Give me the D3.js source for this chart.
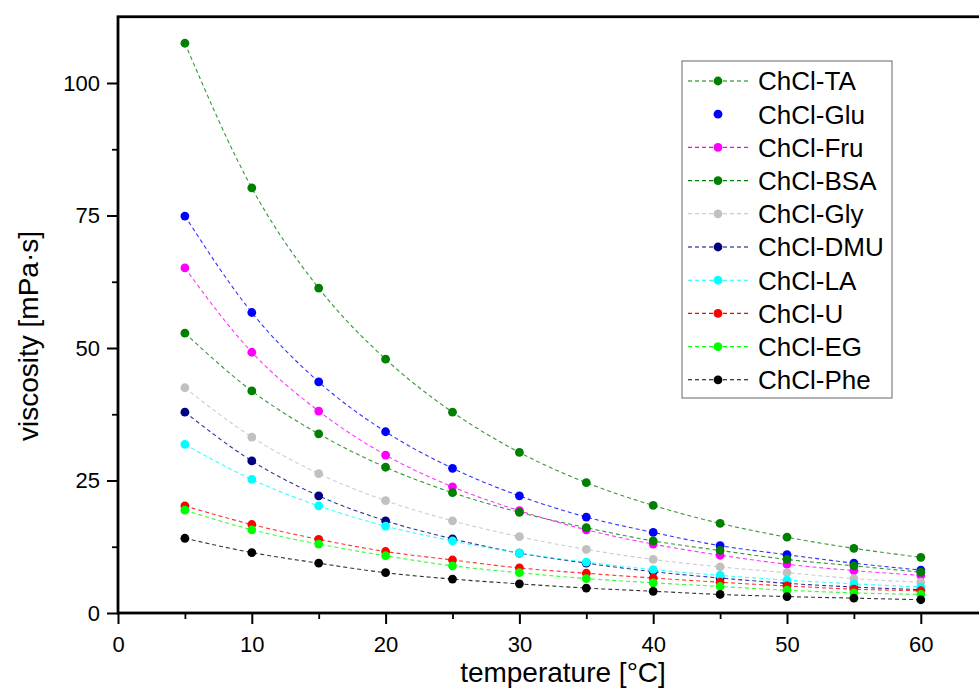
<!DOCTYPE html>
<html lang="en">
<head>
    <meta charset="UTF-8">
    <title>viscosity vs temperature</title>
    <style>
        body { margin: 0; background: #fff; }
        text { font-family: "Liberation Sans", Arial, sans-serif; fill: #000; }
    </style>
</head>
<body>
    <svg id="svg" width="979" height="688"></svg>

    <script src="https://cdn.jsdelivr.net/npm/d3@7/dist/d3.min.js"></script>
    <script>
        // temperatures measured (°C)
        const temperature = [5, 10, 15, 20, 25, 30, 35, 40, 45, 50, 55, 60];

        // viscosity in mPa·s
        const chclTA  = [107.5, 80.2, 61.3, 47.9, 37.9, 30.3, 24.6, 20.3, 16.9, 14.3, 12.2, 10.5];
        const chclGlu = [74.9, 56.7, 43.6, 34.2, 27.3, 22.1, 18.1, 15.2, 12.7, 11.0, 9.4, 8.1];
        const chclFru = [65.1, 49.2, 38.1, 29.8, 23.8, 19.3, 15.7, 13.0, 10.9, 9.2, 8.0, 7.1];
        const chclBSA = [52.8, 41.9, 33.8, 27.5, 22.7, 19.0, 16.1, 13.6, 11.8, 10.1, 8.9, 7.7];
        const chclGly = [42.5, 33.2, 26.3, 21.2, 17.4, 14.4, 12.0, 10.1, 8.7, 7.6, 6.5, 5.8];
        const chclDMU = [37.9, 28.7, 22.1, 17.4, 14.0, 11.3, 9.4, 7.8, 6.6, 5.6, 4.9, 4.4];
        const chclLA  = [31.8, 25.2, 20.2, 16.4, 13.6, 11.3, 9.6, 8.2, 7.1, 6.2, 5.5, 4.9];
        const chclU   = [20.2, 16.7, 13.9, 11.6, 10.0, 8.5, 7.5, 6.6, 5.8, 5.1, 4.5, 4.2];
        const chclEG  = [19.4, 15.7, 13.0, 10.8, 8.9, 7.6, 6.5, 5.7, 5.0, 4.3, 3.8, 3.5];
        const chclPhe = [14.1, 11.4, 9.4, 7.6, 6.4, 5.5, 4.7, 4.1, 3.5, 3.1, 2.8, 2.5];

        const seriesNames = ["ChCl-TA", "ChCl-Glu", "ChCl-Fru", "ChCl-BSA", "ChCl-Gly",
                             "ChCl-DMU", "ChCl-LA", "ChCl-U", "ChCl-EG", "ChCl-Phe"];
        const seriesValues = [chclTA, chclGlu, chclFru, chclBSA, chclGly,
                              chclDMU, chclLA, chclU, chclEG, chclPhe];

        const xTicks = [0, 10, 20, 30, 40, 50, 60];
        const yTicks = [0, 25, 50, 75, 100];

        // styling
        const colors = ["#008000", "#0000ff", "#ff00ff", "#008000", "#c0c0c0",
                        "#000080", "#00ffff", "#ff0000", "#00ff00", "#000000"];
        const legendHasLine = [true, false, true, true, true, true, true, true, true, true];

        const svg = d3.select("#svg");

        const x = d3.scaleLinear().domain([0, 65]).range([118, 118 + 65 * 13.38]);
        const y = d3.scaleLinear().domain([0, 112.5]).range([613, 16.75]);

        // minor ticks
        svg.append("g")
            .attr("transform", "translate(0," + y(0) + ")")
            .call(d3.axisBottom(x).tickValues(d3.range(5, 65, 10)).tickSize(6).tickFormat(""))
            .call(g => g.select(".domain").remove())
            .selectAll("line").attr("stroke-width", 1.8);
        svg.append("g")
            .attr("transform", "translate(" + x(0) + ",0)")
            .call(d3.axisLeft(y).tickValues([12.5, 37.5, 62.5, 87.5]).tickSize(6).tickFormat(""))
            .call(g => g.select(".domain").remove())
            .selectAll("line").attr("stroke-width", 1.8);

        // major ticks + labels
        const xAxis = svg.append("g")
            .attr("transform", "translate(0," + y(0) + ")")
            .call(d3.axisBottom(x).tickValues(xTicks).tickSize(11).tickPadding(12))
            .call(g => g.select(".domain").remove());
        xAxis.selectAll("line").attr("stroke-width", 2);
        xAxis.selectAll("text").style("font-size", "22px").attr("font-family", null);

        const yAxis = svg.append("g")
            .attr("transform", "translate(" + x(0) + ",0)")
            .call(d3.axisLeft(y).tickValues(yTicks).tickSize(11).tickPadding(7))
            .call(g => g.select(".domain").remove());
        yAxis.selectAll("line").attr("stroke-width", 2);
        yAxis.selectAll("text").style("font-size", "22px").attr("font-family", null);

        // frame (right side runs past the picture edge)
        svg.append("rect")
            .attr("x", x(0))
            .attr("y", y(112.5))
            .attr("width", x(65) - x(0))
            .attr("height", y(0) - y(112.5))
            .attr("fill", "none")
            .attr("stroke", "#000")
            .attr("stroke-width", 2.8);

        // series
        const line = d3.line()
            .x((d, i) => x(temperature[i]))
            .y(d => y(d))
            .curve(d3.curveMonotoneX);

        for (let s = 0; s < seriesValues.length; s++) {
            const g = svg.append("g");
            g.append("path")
                .attr("d", line(seriesValues[s]))
                .attr("fill", "none")
                .attr("stroke", colors[s])
                .attr("stroke-width", 1.1)
                .attr("stroke-opacity", 0.8)
                .attr("stroke-dasharray", "4,3");
            g.selectAll("circle")
                .data(seriesValues[s])
                .join("circle")
                .attr("cx", (d, i) => x(temperature[i]))
                .attr("cy", d => y(d))
                .attr("r", 4.4)
                .attr("fill", colors[s]);
        }

        // legend
        const legend = svg.append("g");
        legend.append("rect")
            .attr("x", 682)
            .attr("y", 61)
            .attr("width", 210)
            .attr("height", 337)
            .attr("fill", "#fff")
            .attr("stroke", "#808080")
            .attr("stroke-width", 1.2);

        for (let s = 0; s < seriesNames.length; s++) {
            const ly = 81 + s * 33.2;
            if (legendHasLine[s]) {
                legend.append("line")
                    .attr("x1", 688).attr("x2", 748)
                    .attr("y1", ly).attr("y2", ly)
                    .attr("stroke", colors[s])
                    .attr("stroke-width", 1.1)
                    .attr("stroke-dasharray", "4,3");
            }
            legend.append("circle")
                .attr("cx", 718).attr("cy", ly)
                .attr("r", 4.4)
                .attr("fill", colors[s]);
            legend.append("text")
                .attr("x", 758)
                .attr("y", ly)
                .attr("dy", "0.36em")
                .style("font-size", "26px")
                .text(seriesNames[s]);
        }

        // axis titles
        svg.append("text")
            .attr("x", 563)
            .attr("y", 682)
            .attr("text-anchor", "middle")
            .style("font-size", "28px")
            .text("temperature [°C]");

        svg.append("text")
            .attr("transform", "translate(38,336) rotate(-90)")
            .attr("text-anchor", "middle")
            .style("font-size", "28px")
            .text("viscosity [mPa·s]");
    </script>
</body>
</html>
